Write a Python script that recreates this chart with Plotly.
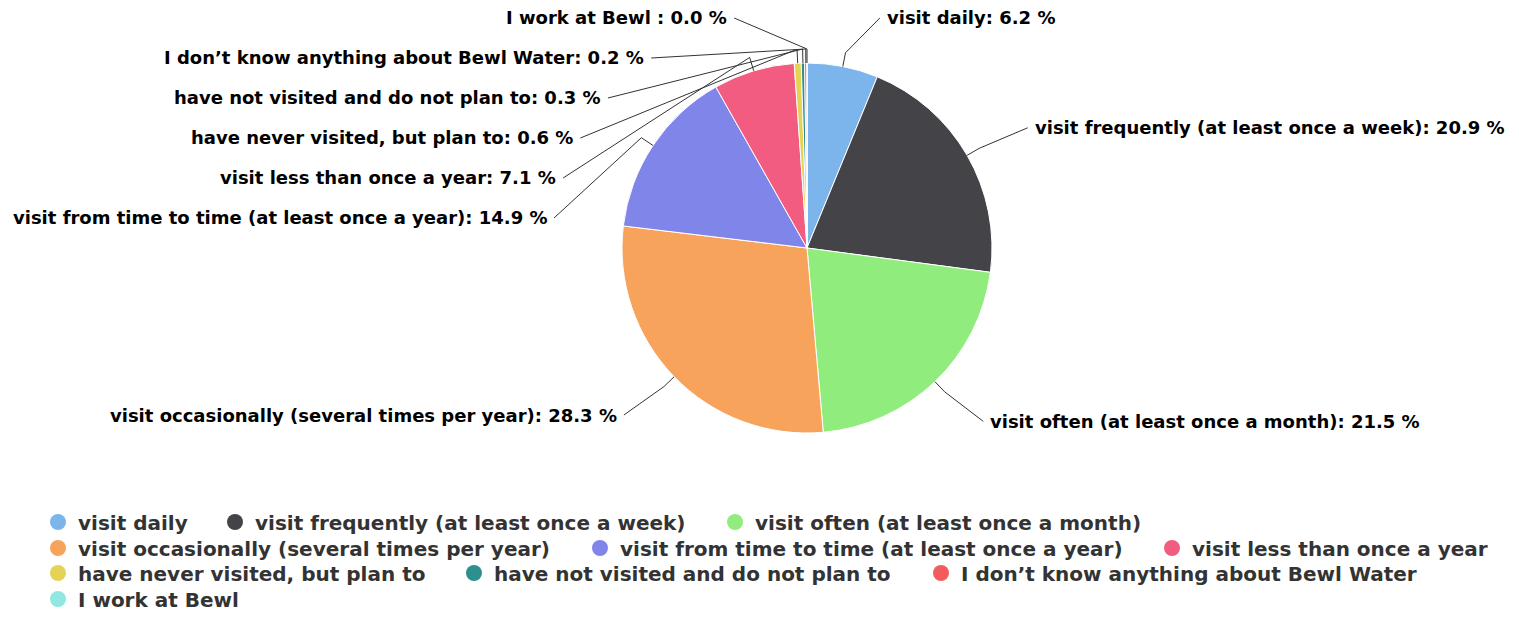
import numpy as np
import plotly.graph_objects as go

# survey answers (Highcharts-style pie)
categories = [
    "visit daily",
    "visit frequently (at least once a week)",
    "visit often (at least once a month)",
    "visit occasionally (several times per year)",
    "visit from time to time (at least once a year)",
    "visit less than once a year",
    "have never visited, but plan to",
    "have not visited and do not plan to",
    "I don\u2019t know anything about Bewl Water",
    "I work at Bewl ",
]
shares = [6.2, 20.9, 21.5, 28.3, 14.9, 7.1, 0.6, 0.3, 0.2, 0.0]
colors = ["#7cb5ec", "#434348", "#90ed7d", "#f7a35c", "#8085e9",
          "#f15c80", "#e4d354", "#2b908f", "#f45b5b", "#91e8e1"]
legend_rows = [1, 1, 1, 2, 2, 2, 3, 3, 3, 4]

# page geometry in screen pixels (page body adds an 8px offset)
W, H = 1519, 619
OX, OY = 8, 8
ML, MR = 20, 20
PW = W - ML - MR
CX, CY, R = 807, 248, 185
# legend text-area widths (px) so that items space out like the original
entry_w = [132, 455, None, 497, 527, None, 371, 422, None, None]


def px(x):
    return (x - OX - ML) / PW


def py(y):
    return 1 - (y - OY) / H


fig = go.Figure()

fig.add_trace(go.Pie(
    labels=categories, values=shares, sort=False, direction="clockwise",
    rotation=0, textinfo="none", showlegend=False,
    marker=dict(colors=colors, line=dict(color="white", width=1)),
    domain=dict(x=[px(CX - R), px(CX + R)], y=[py(CY + R), py(CY - R)]),
))

# legend entries with round markers, one legend per row
for name, c, row, ew in zip(categories, colors, legend_rows, entry_w):
    fig.add_trace(go.Scatter(x=[None], y=[None], mode="markers", name=name.strip(),
                             marker=dict(color=c, size=16), legendwidth=ew,
                             legend="legend" if row == 1 else f"legend{row}"))

# data labels with connectors, placed from the slice angles
vals = np.array(shares)
ends = np.cumsum(vals) / vals.sum() * 360
mids = np.radians(ends - vals / vals.sum() * 180)
DX, DY, GAP, YMIN = 255, 240, 40, 18

labels = []
for i, a in enumerate(mids):
    labels.append(dict(i=i, a=a, left=np.degrees(a) > 180, y=CY - DY * np.cos(a)))

for side in (True, False):
    group = sorted([l for l in labels if l["left"] == side], key=lambda l: l["y"])
    prev = YMIN - GAP
    for l in group:
        l["y"] = max(l["y"], prev + GAP)
        prev = l["y"]

for l in labels:
    a, y = l["a"], l["y"]
    off = DX * np.sqrt(max(0.0, 1 - ((y - CY) / DY) ** 2))
    sgn = -1 if l["left"] else 1
    lx = CX + sgn * off
    ex, ey = CX + R * np.sin(a), CY - R * np.cos(a)
    bx, by = CX + (R + 14) * np.sin(a), CY - (R + 14) * np.cos(a)
    fig.add_shape(type="path", xref="paper", yref="paper",
                  path=f"M {px(lx)},{py(y)} L {px(bx)},{py(by)} L {px(ex)},{py(ey)}",
                  line=dict(color="#333333", width=1))
    fig.add_annotation(
        x=px(lx + sgn * 5), y=py(y), xref="paper", yref="paper",
        text=f"{categories[l['i']]}: {shares[l['i']]:.1f} %", showarrow=False,
        xanchor="right" if l["left"] else "left", yanchor="middle",
        font=dict(family="DejaVu Sans", size=18, color="#000000", weight="bold"),
    )

legend_style = dict(
    orientation="h", x=px(38), xanchor="left", yanchor="middle",
    font=dict(family="DejaVu Sans", size=20, color="#333333", weight="bold"),
    itemclick=False, itemdoubleclick=False, bgcolor="rgba(0,0,0,0)",
)
row_y = {1: 522, 2: 548, 3: 573, 4: 599}

fig.update_xaxes(visible=False)
fig.update_yaxes(visible=False)
fig.update_layout(
    width=W, height=H,
    margin=dict(l=ML, r=MR, t=0, b=0),
    paper_bgcolor="white", plot_bgcolor="white",
    font=dict(family="DejaVu Sans"),
    legend=dict(legend_style, y=py(row_y[1])),
    legend2=dict(legend_style, y=py(row_y[2])),
    legend3=dict(legend_style, y=py(row_y[3])),
    legend4=dict(legend_style, y=py(row_y[4])),
)

fig.write_html("out.html")
